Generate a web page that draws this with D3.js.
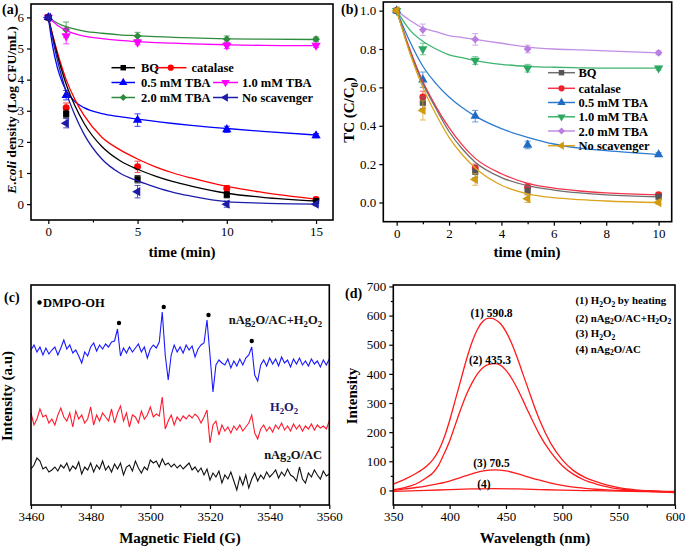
<!DOCTYPE html>
<html><head><meta charset="utf-8">
<script src="https://cdn.jsdelivr.net/npm/d3@7"></script>
<style>body{margin:0;background:#fff}svg{display:block}text{font-family:"Liberation Serif","Times New Roman",serif}</style>
</head><body><svg id="c" width="685" height="549"></svg>
<script>
// ---------- Panel (a) data ----------
const timesA = [0, 1, 5, 10, 15];
const namesA = ["BQ", "catalase", "0.5 mM TBA", "1.0 mM TBA", "2.0 mM TBA", "No scavenger"];
const valsA_BQ = [6, 2.9, 0.8, 0.3, 0.1];
const valsA_cat = [6, 3.1, 1.2, 0.5, 0.15];
const valsA_t05 = [6, 3.5, 2.7, 2.4, 2.2];
const valsA_t10 = [6, 5.4, 5.2, 5.1, 5.1];
const valsA_t20 = [6, 5.6, 5.4, 5.3, 5.3];
const valsA_no = [6, 2.6, 0.4, 0.0, 0.0];
const errA_BQ = [0.05, 0.12, 0.12, 0.1, 0.07];
const errA_cat = [0.05, 0.15, 0.18, 0.1, 0.07];
const errA_t05 = [0.05, 0.15, 0.2, 0.1, 0.07];
const errA_t10 = [0.05, 0.25, 0.08, 0.1, 0.07];
const errA_t20 = [0.05, 0.25, 0.12, 0.1, 0.07];
const errA_no = [0.05, 0.15, 0.2, 0.1, 0.05];
const fitTimesA = [0, 0.25, 0.5, 0.75, 1, 1.5, 2, 3, 4, 5, 6, 7, 8, 10, 12, 15];
const fitA_BQ = [6, 5.37, 4.8, 4.3, 3.85, 3.15, 2.6, 1.85, 1.4, 1.12, 0.9, 0.72, 0.58, 0.35, 0.22, 0.1];
const fitA_cat = [6, 5.43, 4.9, 4.42, 4.0, 3.35, 2.85, 2.15, 1.75, 1.45, 1.2, 1.0, 0.84, 0.57, 0.38, 0.16];
const fitA_t05 = [6, 5.05, 4.4, 3.96, 3.65, 3.29, 3.1, 2.91, 2.81, 2.73, 2.66, 2.59, 2.53, 2.43, 2.34, 2.22];
const fitA_t10 = [6, 5.87, 5.75, 5.66, 5.58, 5.47, 5.4, 5.32, 5.26, 5.22, 5.19, 5.17, 5.15, 5.12, 5.1, 5.09];
const fitA_t20 = [6, 5.9, 5.82, 5.75, 5.7, 5.62, 5.56, 5.49, 5.44, 5.41, 5.38, 5.36, 5.34, 5.31, 5.3, 5.29];
const fitA_no = [6, 5.3, 4.65, 4.1, 3.6, 2.85, 2.25, 1.45, 1.0, 0.75, 0.55, 0.38, 0.26, 0.08, 0.03, 0.0];
const xTicksA = [0, 5, 10, 15];
const yTicksA = [0, 1, 2, 3, 4, 5, 6];

// ---------- Panel (b) data ----------
const timesB = [0, 1, 3, 5, 10];
const namesB = ["BQ", "catalase", "0.5 mM TBA", "1.0 mM TBA", "2.0 mM TBA", "No scavenger"];
const valsB_BQ = [1, 0.52, 0.16, 0.06, 0.03];
const valsB_cat = [1, 0.55, 0.18, 0.08, 0.04];
const valsB_t05 = [1, 0.64, 0.45, 0.30, 0.25];
const valsB_t10 = [1, 0.80, 0.74, 0.70, 0.70];
const valsB_t20 = [1, 0.90, 0.85, 0.80, 0.78];
const valsB_no = [1, 0.48, 0.12, 0.02, 0.0];
const errB_BQ = [0.01, 0.03, 0.03, 0.02, 0.01];
const errB_cat = [0.01, 0.03, 0.02, 0.02, 0.01];
const errB_t05 = [0.01, 0.04, 0.03, 0.02, 0.01];
const errB_t10 = [0.01, 0.03, 0.02, 0.02, 0.01];
const errB_t20 = [0.01, 0.03, 0.03, 0.02, 0.01];
const errB_no = [0.01, 0.05, 0.03, 0.02, 0.01];
const fitTimesB = [0, 0.5, 1, 1.5, 2, 2.5, 3, 4, 5, 6, 7, 8, 10];
const fitB_BQ = [1, 0.79, 0.62, 0.49, 0.37, 0.28, 0.21, 0.13, 0.088, 0.065, 0.05, 0.04, 0.03];
const fitB_cat = [1, 0.8, 0.63, 0.5, 0.39, 0.3, 0.23, 0.15, 0.1, 0.075, 0.06, 0.05, 0.04];
const fitB_t05 = [1, 0.84, 0.71, 0.62, 0.55, 0.495, 0.45, 0.385, 0.34, 0.305, 0.283, 0.27, 0.25];
const fitB_t10 = [1, 0.9, 0.84, 0.80, 0.77, 0.755, 0.74, 0.72, 0.71, 0.705, 0.702, 0.70, 0.70];
const fitB_t20 = [1, 0.95, 0.91, 0.89, 0.87, 0.86, 0.85, 0.83, 0.81, 0.80, 0.795, 0.79, 0.78];
const fitB_no = [1, 0.78, 0.6, 0.46, 0.34, 0.25, 0.18, 0.09, 0.045, 0.025, 0.015, 0.008, 0.0];
const xTicksB = [0, 2, 4, 6, 8, 10];
const yTicksB = [0, 0.2, 0.4, 0.6, 0.8, 1.0];

// ---------- Panel (c) data (EPR, 1 G steps 3460..3560) ----------
const fieldStartC = 3460;
const eprBlue = [155,160,153,158,150,157,151,155,158,150,157,165,156,160,152,155,149,142,153,149,
158,162,154,160,156,161,158,163,164,176,149,157,152,158,153,157,161,153,158,147,
156,160,157,163,193,150,125,150,160,153,158,152,160,155,159,148,156,160,162,185,
150,113,140,145,142,140,146,137,144,139,146,140,147,150,158,130,124,140,145,139,
147,141,146,139,148,142,145,138,146,141,147,140,144,139,146,141,144,138,145,140,146];
const eprRed = [92,80,86,96,88,90,82,86,80,90,97,88,84,92,78,94,86,90,82,86,
98,80,90,84,92,88,84,96,82,92,99,84,92,78,90,88,82,94,86,90,
98,88,91,89,108,76,84,90,80,88,84,89,86,90,87,91,88,82,88,95,
62,80,84,70,80,74,78,72,79,75,80,74,78,82,90,72,66,76,80,74,
78,73,80,76,82,75,79,74,81,76,80,74,79,76,81,75,80,77,79,76,84];
const eprBlack = [36,40,47,44,36,38,33,35,38,34,40,37,42,34,39,36,43,31,38,35,
42,33,40,36,44,35,39,33,41,36,42,30,38,40,34,44,37,32,38,35,
45,42,44,38,46,40,42,38,41,37,40,36,39,42,35,38,33,37,30,36,
25,32,28,34,22,30,26,33,24,15,28,20,30,17,26,32,24,30,26,33,
28,31,35,27,33,29,36,30,28,24,38,26,22,32,28,35,30,26,34,29,31];
const dotFieldsC = [3489.5, 3504.5, 3519.5, 3534];
const dotValsC = [182, 198, 190, 164];
const xTicksC = [3460, 3480, 3500, 3520, 3540, 3560];

// ---------- Panel (d) data ----------
const wl1 = [350,360,370,380,385,390,395,400,405,410,415,420,425,430,435,438,440,445,450,455,460,465,470,475,480,490,500,510,520,530,540,550,560,570,580,590,600];
const pl1 = [22,38,58,85,105,135,180,240,310,380,450,510,555,582,591,590.8,587,573,545,505,455,400,345,290,240,160,105,68,45,30,18,10,4,0,-2,-4,-5];
const wl2 = [350,360,370,380,385,390,395,400,405,410,415,420,425,430,435,440,445,450,455,460,465,470,475,480,490,500,510,520,530,540,550,560,570,580,590,600];
const pl2 = [3,10,22,45,60,85,125,170,225,280,330,370,402,423,433,435.3,430,412,385,350,310,268,228,190,130,85,55,35,22,12,5,1,-2,-4,-6,-8];
const wl3 = [350,360,370,380,390,400,410,420,430,440,450,460,470,480,490,500,510,520,530,540,550,560,570,580,590,600];
const pl3 = [0,5,10,16,23,32,45,57,67,70.5,67,58,46,35,25,17,11,7,4,2,0,-1,-2,-2,-3,-3];
const wl4 = [350,380,400,420,440,460,480,500,530,560,600];
const pl4 = [-3,0,3,5,6,5,3,1,-1,-3,-6];
const peakLabelsD = ["(1) 590.8", "(2) 435.3", "(3) 70.5", "(4)"];
const xTicksD = [350, 400, 450, 500, 550, 600];
const yTicksD = [0, 100, 200, 300, 400, 500, 600, 700];

// ---------- helpers ----------
const svg = d3.select("#c");
svg.append("rect").attr("width", 685).attr("height", 549).attr("fill", "#fff");

function rich(t, parts, size) {
  let sub = false;
  parts.forEach(([s, k]) => {
    const ts = t.append("tspan").text(s);
    if (k === "sub") { ts.attr("font-size", size * 0.7).attr("dy", sub ? 0 : size * 0.25); sub = true; }
    else { if (sub) ts.attr("dy", -size * 0.25); sub = false; if (k === "i") ts.attr("font-style", "italic"); }
  });
  return t;
}

function frameAxes(g, x, y, o) {
  const [x0, x1] = x.range(), [y0, y1] = y.range();
  const ax = d3.axisBottom(x).tickValues(o.xt).tickSize(4).tickPadding(3).tickFormat(o.xf || d3.format("d"));
  const gx = g.append("g").attr("transform", `translate(0,${y0})`).call(ax);
  if (o.xm) g.append("g").attr("transform", `translate(0,${y0})`).call(d3.axisBottom(x).tickValues(o.xm).tickSize(2.5).tickFormat("")).select(".domain").remove();
  gx.select(".domain").remove();
  gx.selectAll("text").attr("font-size", 13).attr("fill", "#000").attr("font-family", "Liberation Serif");
  if (o.yt) {
    const ay = d3.axisLeft(y).tickValues(o.yt).tickSize(4).tickPadding(3).tickFormat(o.yf || d3.format("d"));
    const gy = g.append("g").attr("transform", `translate(${x0},0)`).call(ay);
    gy.select(".domain").remove();
    gy.selectAll("text").attr("font-size", 13).attr("fill", "#000").attr("font-family", "Liberation Serif");
    if (o.ym) g.append("g").attr("transform", `translate(${x0},0)`).call(d3.axisLeft(y).tickValues(o.ym).tickSize(2.5).tickFormat("")).select(".domain").remove();
  }
  g.selectAll(".tick line").attr("stroke", "#000").attr("stroke-width", 1.2);
  g.append("rect").attr("x", x0).attr("y", y1).attr("width", x1 - x0).attr("height", y0 - y1)
    .attr("fill", "none").attr("stroke", "#000").attr("stroke-width", 1.6);
}

function sym(shape, size) {
  const m = { square: [d3.symbolSquare, 0], circle: [d3.symbolCircle, 0], triUp: [d3.symbolTriangle, 0],
    triDown: [d3.symbolTriangle, 180], triLeft: [d3.symbolTriangle, -90], diamond: [d3.symbolSquare, 45] };
  const [type, rot] = m[shape];
  return { path: d3.symbol().type(type).size(shape === "diamond" ? size * 0.8 : size)(), rot };
}

function drawSeries(g, x, y, s, fitT, times) {
  const line = d3.line().x((d, i) => x(fitT[i])).y(d => y(d)).curve(d3.curveMonotoneX);
  g.append("path").attr("d", line(s.fit)).attr("fill", "none").attr("stroke", s.color).attr("stroke-width", 1.3);
  const eg = g.append("g").attr("stroke", s.ecolor || s.color).attr("stroke-width", 1).attr("opacity", 0.75);
  s.vals.forEach((v, i) => {
    const e = s.err[i], cx = x(times[i]);
    eg.append("line").attr("x1", cx).attr("x2", cx).attr("y1", y(v - e)).attr("y2", y(v + e));
    eg.append("line").attr("x1", cx - 3).attr("x2", cx + 3).attr("y1", y(v - e)).attr("y2", y(v - e));
    eg.append("line").attr("x1", cx - 3).attr("x2", cx + 3).attr("y1", y(v + e)).attr("y2", y(v + e));
  });
  const sy = sym(s.shape, 38);
  s.vals.forEach((v, i) => {
    g.append("path").attr("d", sy.path).attr("fill", s.mcolor || s.color)
      .attr("transform", `translate(${x(times[i])},${y(v)}) rotate(${sy.rot})`);
  });
}

function legendItem(g, x1, x2, tx, yy, s, fs) {
  g.append("line").attr("x1", x1).attr("x2", x2).attr("y1", yy).attr("y2", yy).attr("stroke", s.color).attr("stroke-width", 1.5);
  const sy = sym(s.shape, 30);
  g.append("path").attr("d", sy.path).attr("fill", s.mcolor || s.color).attr("transform", `translate(${(x1 + x2) / 2},${yy}) rotate(${sy.rot})`);
  g.append("text").attr("x", tx).attr("y", yy + 4.5).attr("font-size", fs).attr("font-weight", "bold").text(s.name);
}

function ylab(g, x, y, parts, size) {
  const t = g.append("text").attr("transform", `translate(${x},${y}) rotate(-90)`).attr("text-anchor", "middle")
    .attr("font-size", size).attr("font-weight", "bold");
  return rich(t, parts, size);
}
function xlab(g, x, y, txt, size) {
  g.append("text").attr("x", x).attr("y", y).attr("text-anchor", "middle").attr("font-size", size).attr("font-weight", "bold").text(txt);
}

// ---------- Panel (a) ----------
{
  const g = svg.append("g");
  const x = d3.scaleLinear().domain([-0.97, 15.95]).range([31, 333]);
  const y = d3.scaleLinear().domain([-0.51, 6.43]).range([220, 4]);
  const shapes = ["square", "circle", "triUp", "triDown", "diamond", "triLeft"];
  const colors = ["#000000", "#ff0000", "#0000ff", "#ff00ff", "#2e8b3e", "#1c1ca8"];
  const vals = [valsA_BQ, valsA_cat, valsA_t05, valsA_t10, valsA_t20, valsA_no];
  const errs = [errA_BQ, errA_cat, errA_t05, errA_t10, errA_t20, errA_no];
  const fits = [fitA_BQ, fitA_cat, fitA_t05, fitA_t10, fitA_t20, fitA_no];
  const S = namesA.map((n, i) => ({ name: n, shape: shapes[i], color: colors[i], vals: vals[i], err: errs[i], fit: fits[i] }));
  const order = [4, 3, 2, 1, 0, 5];
  order.forEach(i => drawSeries(g, x, y, S[i], fitTimesA, timesA));
  frameAxes(g, x, y, { xt: xTicksA, xm: [2.5, 7.5, 12.5], yt: yTicksA });
  legendItem(g, 111.5, 135, 141, 67.7, S[0], 12.5);
  legendItem(g, 155, 186.5, 191.5, 67.7, S[1], 12.5);
  legendItem(g, 111.5, 135, 141, 82.5, S[2], 12.5);
  legendItem(g, 213, 238, 242, 82.5, S[3], 12.5);
  legendItem(g, 111.5, 135, 141, 97.5, S[4], 12.5);
  legendItem(g, 213, 238, 242, 97.5, S[5], 12.5);
  g.append("text").attr("x", 2).attr("y", 14).attr("font-size", 14).attr("font-weight", "bold").text("(a)");
  ylab(g, 16, 110, [["E.coli", "i"], [" density (Log CFU/mL)", "n"]], 13.5);
  xlab(g, 182, 257, "time (min)", 15);
}

// ---------- Panel (b) ----------
{
  const g = svg.append("g");
  const x = d3.scaleLinear().domain([-0.51, 10.5]).range([383.3, 671.7]);
  const y = d3.scaleLinear().domain([-0.1, 1.045]).range([221.7, 2]);
  const shapes = ["square", "circle", "triUp", "triDown", "diamond", "triLeft"];
  const colors = ["#6e6e6e", "#f5334a", "#2d7bd0", "#3cb46e", "#c08ee6", "#dca41c"];
  const mcolors = ["#555555", "#f0202c", "#1e6cc4", "#2ea860", "#b87ee0", "#d09a10"];
  const vals = [valsB_BQ, valsB_cat, valsB_t05, valsB_t10, valsB_t20, valsB_no];
  const errs = [errB_BQ, errB_cat, errB_t05, errB_t10, errB_t20, errB_no];
  const fits = [fitB_BQ, fitB_cat, fitB_t05, fitB_t10, fitB_t20, fitB_no];
  const S = namesB.map((n, i) => ({ name: n, shape: shapes[i], color: colors[i], mcolor: mcolors[i], vals: vals[i], err: errs[i], fit: fits[i] }));
  [4, 3, 2, 1, 0, 5].forEach(i => drawSeries(g, x, y, S[i], fitTimesB, timesB));
  frameAxes(g, x, y, { xt: xTicksB, xm: [1, 3, 5, 7, 9], yt: yTicksB, yf: d3.format(".1f") });
  const rows = [72.7, 88.3, 102.5, 116.8, 131, 145.7];
  S.forEach((s, i) => legendItem(g, 548, 575, 578.5, rows[i], s, 12.5));
  g.append("text").attr("x", 341).attr("y", 14).attr("font-size", 14).attr("font-weight", "bold").text("(b)");
  ylab(g, 354, 110, [["TC (C/C", "n"], ["0", "sub"], [")", "n"]], 15);
  xlab(g, 527, 257, "time (min)", 15);
}

// ---------- Panel (c) ----------
{
  const g = svg.append("g");
  const x = d3.scaleLinear().domain([3460, 3560]).range([31, 329.3]);
  const y = d3.scaleLinear().domain([0, 220]).range([505, 285]);
  const fields = d3.range(eprBlue.length).map(i => fieldStartC + i);
  const line = d3.line().x((d, i) => x(fields[i])).y(d => y(d));
  [[eprBlack, "#111111"], [eprRed, "#ff1a2e"], [eprBlue, "#1a1aff"]].forEach(([arr, c]) => {
    g.append("path").attr("d", line(arr)).attr("fill", "none").attr("stroke", c).attr("stroke-width", 1.1);
  });
  dotFieldsC.forEach((f, i) => g.append("circle").attr("cx", x(f)).attr("cy", y(dotValsC[i])).attr("r", 2.2).attr("fill", "#000"));
  frameAxes(g, x, y, { xt: xTicksC, xm: [3470, 3490, 3510, 3530, 3550] });
  g.append("text").attr("x", 4).attr("y", 302).attr("font-size", 14).attr("font-weight", "bold").text("(c)");
  g.append("circle").attr("cx", 39.5).attr("cy", 302.5).attr("r", 2.2).attr("fill", "#000");
  g.append("text").attr("x", 43).attr("y", 307).attr("font-size", 12.5).attr("font-weight", "bold").text("DMPO-OH");
  rich(g.append("text").attr("x", 322).attr("y", 324).attr("text-anchor", "end").attr("font-size", 12.5).attr("font-weight", "bold").attr("fill", "#111"),
    [["nAg", "n"], ["2", "sub"], ["O/AC+H", "n"], ["2", "sub"], ["O", "n"], ["2", "sub"]], 12.5);
  rich(g.append("text").attr("x", 284).attr("y", 411).attr("text-anchor", "middle").attr("font-size", 12.5).attr("font-weight", "bold").attr("fill", "#1a1a70"),
    [["H", "n"], ["2", "sub"], ["O", "n"], ["2", "sub"]], 12.5);
  rich(g.append("text").attr("x", 322).attr("y", 459).attr("text-anchor", "end").attr("font-size", 12.5).attr("font-weight", "bold").attr("fill", "#111"),
    [["nAg", "n"], ["2", "sub"], ["O/AC", "n"]], 12.5);
  ylab(g, 12, 396, [["Intensity (a.u)", "n"]], 15);
  xlab(g, 180, 543, "Magnetic Field (G)", 15);
}

// ---------- Panel (d) ----------
{
  const g = svg.append("g");
  const x = d3.scaleLinear().domain([350, 600]).range([393.3, 675]);
  const y = d3.scaleLinear().domain([-50, 705]).range([505, 285]);
  const mk = (wl) => d3.line().x((d, i) => x(wl[i])).y(d => y(d)).curve(d3.curveMonotoneX);
  [[wl1, pl1], [wl2, pl2], [wl3, pl3], [wl4, pl4]].forEach(([w, p]) => {
    g.append("path").attr("d", mk(w)(p)).attr("fill", "none").attr("stroke", "#ff1a1a").attr("stroke-width", 1.3);
  });
  frameAxes(g, x, y, { xt: xTicksD, xm: [375, 425, 475, 525, 575], yt: yTicksD, ym: [50, 150, 250, 350, 450, 550, 650] });
  const labPos = [[491.5, 316.5], [490, 363.5], [491.5, 466.5], [484, 487.5]];
  peakLabelsD.forEach((t, i) => g.append("text").attr("x", labPos[i][0]).attr("y", labPos[i][1]).attr("text-anchor", "middle")
    .attr("font-size", 11.5).attr("font-weight", "bold").text(t));
  const lg = [[["(1) H", "n"], ["2", "sub"], ["O", "n"], ["2", "sub"], [" by heating", "n"]],
              [["(2) nAg", "n"], ["2", "sub"], ["O/AC+H", "n"], ["2", "sub"], ["O", "n"], ["2", "sub"]],
              [["(3) H", "n"], ["2", "sub"], ["O", "n"], ["2", "sub"]],
              [["(4) nAg", "n"], ["2", "sub"], ["O/AC", "n"]]];
  const lgY = [304, 321.5, 337, 352.5];
  lg.forEach((p, i) => rich(g.append("text").attr("x", 575.5).attr("y", lgY[i]).attr("font-size", 10.8).attr("font-weight", "bold"), p, 10.8));
  g.append("text").attr("x", 345).attr("y", 298).attr("font-size", 14).attr("font-weight", "bold").text("(d)");
  ylab(g, 357, 396, [["Intensity", "n"]], 15);
  xlab(g, 535, 543, "Wavelength (nm)", 15);
}
</script></body></html>
